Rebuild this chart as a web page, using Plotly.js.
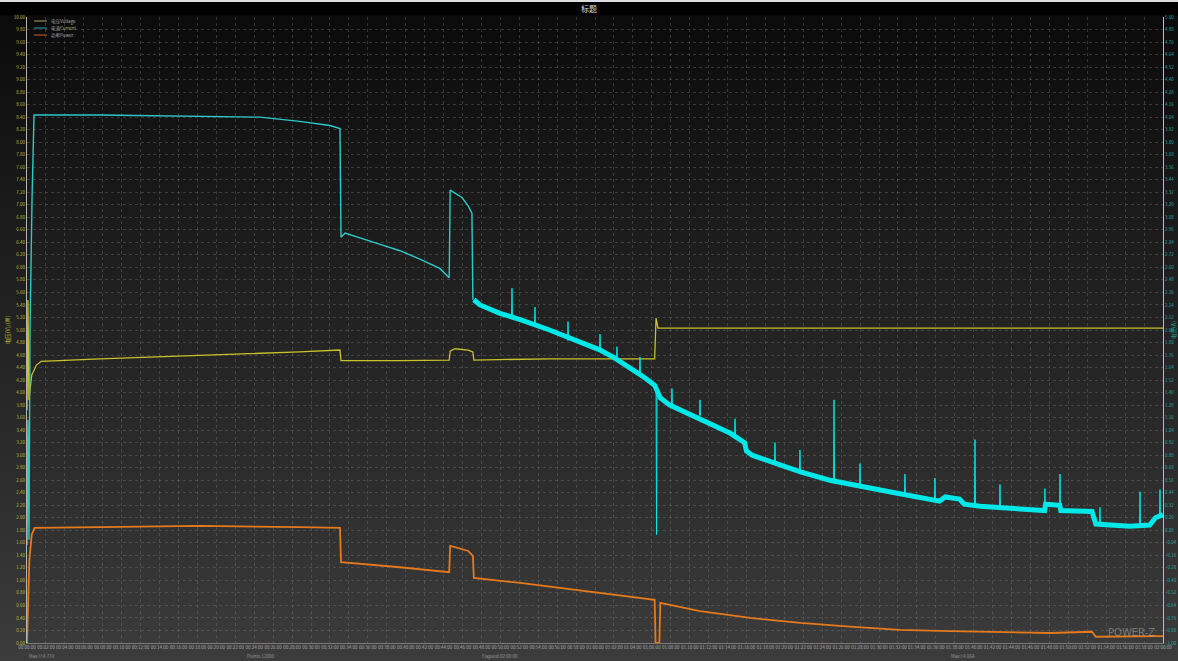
<!DOCTYPE html>
<html>
<head>
<meta charset="utf-8">
<script src="https://cdn.plot.ly/plotly-3.0.1.min.js"></script>
<style>
  html, body { margin: 0; padding: 0; background: #000; }
  #chart {
    width: 1178px; height: 661px;
    background: linear-gradient(to bottom, #dcdcdc 0px, #dcdcdc 2px, #000 2px, #000 15px, #0b0b0b 16px, #1c1c1c 35%, #2e2e2e 75%, #3c3c3c 100%);
  }
</style>
</head>
<body>
<div id="chart"></div>
<script>
// Time axis: minutes since start of the log (0 .. 120 min)
const tickMinutes = [];
for (let m = 0; m <= 120; m += 2) tickMinutes.push(m);

// Series names (legend)
const seriesNames = ['电压Voltage', '电流Current', '功率Power'];

// Voltage (left axis, V)
const voltT = [0, 0.1, 0.2, 0.5, 1.0, 1.5, 7.7, 18.3, 28.8, 33.06, 33.17, 39.4, 44.6, 44.7, 45.2, 46.6, 47.1, 47.2, 55.2, 66.3, 66.45, 66.65, 92.2, 120];
const voltV = [3.72, 5.48, 3.88, 4.28, 4.44, 4.50, 4.54, 4.59, 4.65, 4.68, 4.51, 4.51, 4.52, 4.66, 4.70, 4.68, 4.65, 4.52, 4.54, 4.54, 5.19, 5.03, 5.03, 5.03];

// Current, first part (right axis, A)
const currT = [0, 0.1, 0.21, 0.32, 0.53, 0.74, 7.7, 18.3, 24.6, 28.8, 32.0, 33.06, 33.17, 33.6, 35.2, 37.3, 39.4, 41.5, 43.6, 44.6, 44.7, 45.2, 45.95, 46.6, 47.0, 47.1];
const currV = [-0.06, 1.14, -0.01, 2.00, 3.25, 4.06, 4.06, 4.05, 4.04, 4.00, 3.96, 3.93, 2.89, 2.93, 2.88, 2.82, 2.76, 2.68, 2.59, 2.50, 3.34, 3.31, 3.27, 3.19, 3.12, 2.29];

// Current, noisy second part (right axis, A)
const bandT = [47.2, 47.85, 49.96, 52.1, 55.2, 58.4, 60.5, 62.1, 63.7, 65.3, 66.3, 66.9, 67.9, 70.0, 72.1, 74.3, 75.8, 76.0, 76.6, 78.5, 81.7, 84.8, 88.0, 92.2, 96.4, 97.0, 98.5, 99.0, 100.7, 104.9, 107.5, 107.6, 109.1, 109.2, 112.5, 112.9, 116.5, 118.6, 119.2, 120];
const bandV = [2.29, 2.24, 2.16, 2.10, 2.00, 1.89, 1.81, 1.73, 1.64, 1.54, 1.47, 1.35, 1.28, 1.19, 1.10, 1.01, 0.92, 0.84, 0.80, 0.74, 0.64, 0.56, 0.50, 0.43, 0.36, 0.40, 0.38, 0.33, 0.31, 0.28, 0.27, 0.33, 0.32, 0.27, 0.26, 0.14, 0.12, 0.13, 0.20, 0.23];

// Current spikes and the dropout near 66.5 min
const spikeT = [51.18, 51.23, 51.28, null, 53.61, 53.66, 53.71, null, 57.10, 57.15, 57.20, null, 60.48, 60.53, 60.58, null,
                62.27, 62.32, 62.37, null, 64.70, 64.75, 64.80, null, 66.45, 66.5, 66.55, null, 68.08, 68.13, 68.18, null,
                71.04, 71.09, 71.14, null, 74.74, 74.79, 74.84, null, 78.96, 79.01, 79.06, null, 81.60, 81.65, 81.70, null,
                85.20, 85.25, 85.30, null, 87.94, 87.99, 88.04, null, 92.69, 92.74, 92.79, null, 95.86, 95.91, 95.96, null,
                100.09, 100.14, 100.19, null, 102.73, 102.78, 102.83, null, 107.48, 107.53, 107.58, null, 109.07, 109.12, 109.17, null,
                113.29, 113.34, 113.39, null, 117.52, 117.57, 117.62, null, 119.63, 119.68, 119.73];
const spikeV = [2.12, 2.40, 2.12, null, 2.04, 2.22, 2.04, null, 1.90, 2.08, 1.90, null, 1.81, 1.96, 1.81, null,
                1.72, 1.84, 1.72, null, 1.58, 1.74, 1.58, null, 1.45, 0.04, 1.40, null, 1.27, 1.44, 1.27, null,
                1.18, 1.33, 1.18, null, 0.99, 1.15, 0.99, null, 0.72, 0.92, 0.72, null, 0.64, 0.85, 0.64, null,
                0.55, 1.33, 0.55, null, 0.50, 0.72, 0.50, null, 0.42, 0.62, 0.42, null, 0.37, 0.58, 0.37, null,
                0.31, 0.95, 0.31, null, 0.29, 0.52, 0.29, null, 0.27, 0.48, 0.27, null, 0.27, 0.62, 0.27, null,
                0.14, 0.30, 0.14, null, 0.13, 0.45, 0.13, null, 0.20, 0.47, 0.20];

// Power (left axis)
const powT = [0, 0.1, 0.25, 0.5, 0.8, 7.7, 18.3, 28.8, 33.06, 33.17, 39.4, 44.6, 44.7, 45.2, 46.6, 47.1, 47.2, 52.1, 60.5, 66.3, 66.4, 66.8, 66.9, 71.1, 76.4, 81.7, 86.9, 92.2, 97.5, 102.8, 108.1, 112.5, 112.9, 120];
const powV = [0, 0.69, 1.33, 1.73, 1.84, 1.85, 1.87, 1.85, 1.84, 1.29, 1.21, 1.13, 1.55, 1.53, 1.47, 1.39, 1.04, 0.96, 0.80, 0.69, 0, 0, 0.64, 0.51, 0.40, 0.32, 0.26, 0.21, 0.19, 0.18, 0.16, 0.18, 0.10, 0.11];

const tickText = tickMinutes.map(m => {
  const h = Math.floor(m / 60), mm = m % 60;
  return String(h).padStart(2, '0') + ':' + String(mm).padStart(2, '0') + ':00';
});

const colVolt = '#c9c22a';
const colCurr = '#00e8e8';
const colCurrThin = '#2ec9c9';
const colPow = '#e57a1c';
const legendCols = ['#a9a46a', '#2aa6b4', '#d2642a'];

const traces = [
  { x: voltT, y: voltV, name: seriesNames[0], mode: 'lines', yaxis: 'y',
    line: { color: colVolt, width: 1.3 } },
  { x: currT, y: currV, name: seriesNames[1], mode: 'lines', yaxis: 'y2',
    line: { color: colCurrThin, width: 1.4 } },
  { x: powT, y: powV, name: seriesNames[2], mode: 'lines', yaxis: 'y',
    line: { color: colPow, width: 1.8 } },
  { x: bandT, y: bandV, name: seriesNames[1], mode: 'lines', yaxis: 'y2',
    line: { color: colCurr, width: 5 } },
  { x: spikeT, y: spikeV, name: seriesNames[1], mode: 'lines', yaxis: 'y2',
    connectgaps: false, line: { color: colCurr, width: 1 } }
];

// Compact legend in the top-left corner of the plot area
const legShapes = [], legNotes = [];
const legY = [0.9936, 0.9824, 0.9712];
seriesNames.forEach((n, i) => {
  legShapes.push({ type: 'line', xref: 'paper', yref: 'paper', x0: 0.0062, x1: 0.0176, y0: legY[i], y1: legY[i],
                   line: { color: legendCols[i], width: 1 } });
  legNotes.push({ text: n, xref: 'paper', yref: 'paper', x: 0.0195, y: legY[i], xanchor: 'left', yanchor: 'middle',
                  showarrow: false, font: { size: 4.5, color: '#a8a8a8' } });
});

const gridCol = 'rgba(125,125,125,0.35)';
const footFont = { size: 4.5, color: '#9a9a9a' };

const layout = {
  width: 1178, height: 661,
  margin: { l: 27, r: 15, t: 17, b: 18, pad: 0 },
  paper_bgcolor: 'rgba(0,0,0,0)',
  plot_bgcolor: 'rgba(0,0,0,0)',
  font: { family: 'Noto Sans CJK SC, DejaVu Sans, sans-serif', color: '#bbbbbb', size: 5 },
  title: { text: '标题', font: { size: 8, color: '#dddddd' }, x: 0.5, xanchor: 'center',
           y: 1 - 9 / 661, yref: 'container', yanchor: 'middle' },
  showlegend: false,
  xaxis: {
    range: [0, 120], tickmode: 'array', tickvals: tickMinutes, ticktext: tickText, tickangle: 0,
    tickfont: { size: 4.5, color: '#aaaaaa' }, ticks: '', showgrid: true, gridcolor: gridCol,
    griddash: 'dot', gridwidth: 1, zeroline: false, showline: true, linecolor: '#7a7a7a', linewidth: 1
  },
  yaxis: {
    range: [0, 10], tick0: 0, dtick: 0.2, tickformat: '.2f', ticks: '',
    tickfont: { size: 4.5, color: '#c0bd38' }, showgrid: true, gridcolor: gridCol, griddash: 'dot',
    zeroline: false, showline: true, linecolor: '#b5b5b5', linewidth: 1,
    title: { text: '电压(V)/(W)', font: { size: 5.5, color: '#c0bd38' }, standoff: 2 }
  },
  yaxis2: {
    overlaying: 'y', side: 'right', range: [-1, 5], tick0: -1, dtick: 0.12, tickformat: '.2f', ticks: '',
    tickfont: { size: 4.5, color: '#1faaa2' }, showgrid: false, zeroline: false,
    showline: true, linecolor: '#9fc8c8', linewidth: 1,
    title: { text: '电流(A)', font: { size: 5.5, color: '#1faaa2' }, standoff: 2 }
  },
  shapes: legShapes,
  annotations: legNotes.concat([
    { text: 'Max U:4.71V', xref: 'paper', yref: 'paper', x: 0.0, y: -0.013, xanchor: 'left', yanchor: 'top',
      showarrow: false, font: footFont },
    { text: 'Points:12000', xref: 'paper', yref: 'paper', x: 0.192, y: -0.013, xanchor: 'left', yanchor: 'top',
      showarrow: false, font: footFont },
    { text: 'Elapsed:02:00:00', xref: 'paper', yref: 'paper', x: 0.399, y: -0.013, xanchor: 'left', yanchor: 'top',
      showarrow: false, font: footFont },
    { text: 'Max I:4.06A', xref: 'paper', yref: 'paper', x: 0.812, y: -0.013, xanchor: 'left', yanchor: 'top',
      showarrow: false, font: footFont },
    { text: 'POWER-Z', xref: 'paper', yref: 'paper', x: 0.995, y: 0.004, xanchor: 'right', yanchor: 'bottom',
      showarrow: false, font: { size: 10, color: 'rgba(200,200,200,0.45)', family: 'DejaVu Sans' } }
  ])
};

Plotly.newPlot('chart', traces, layout, { displayModeBar: false, staticPlot: true });
</script>
</body>
</html>
